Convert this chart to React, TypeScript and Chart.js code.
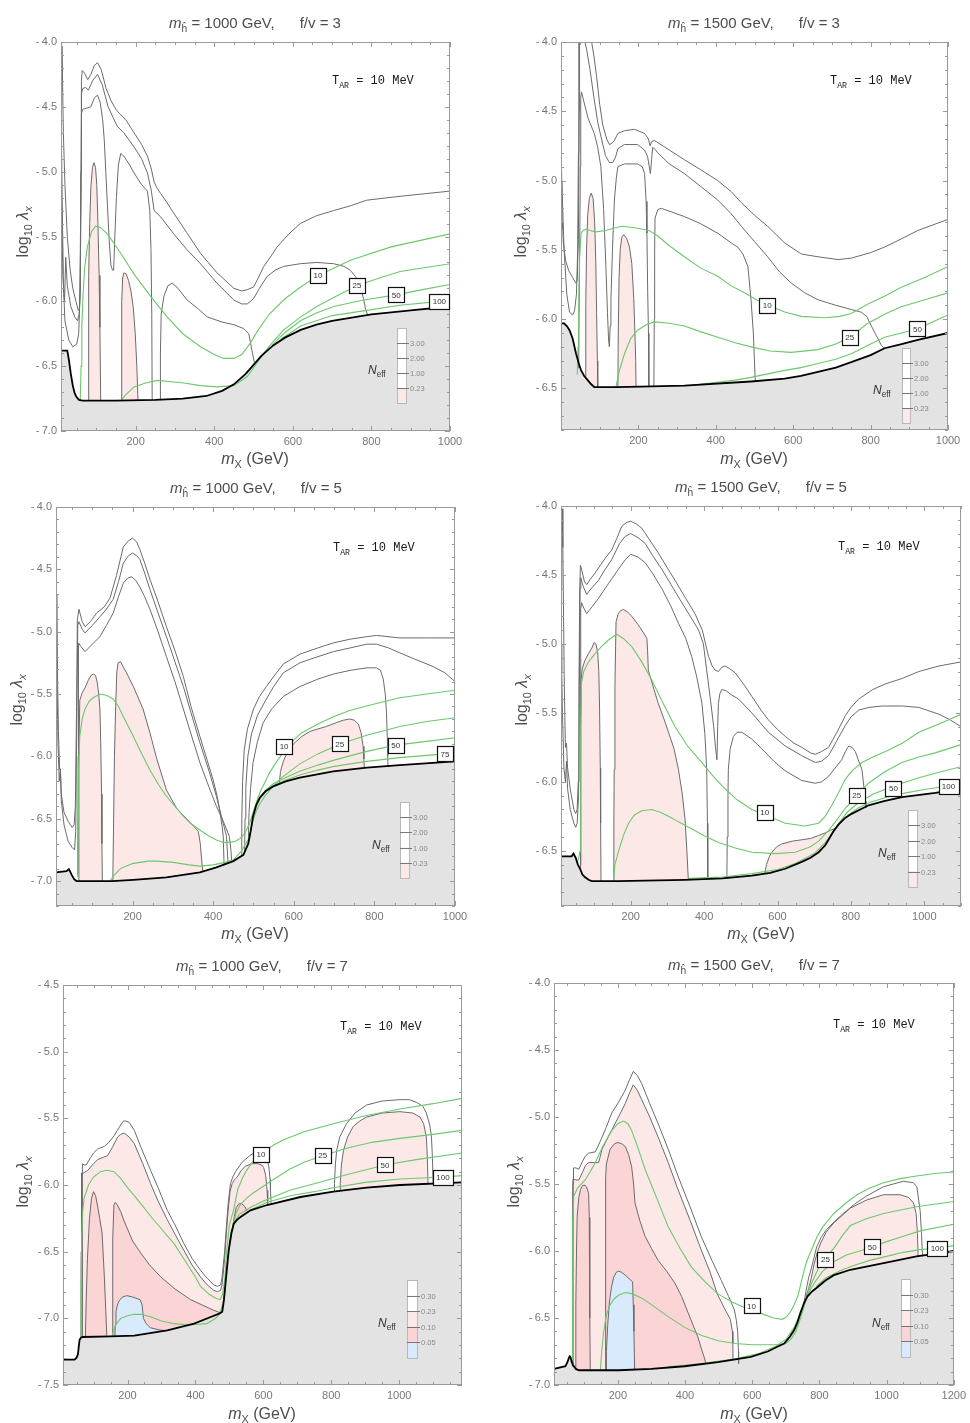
import React, { useEffect, useRef } from "react";
import { Chart, registerables } from "chart.js";
Chart.register(...registerables);

type Pt = [number, number];

// ---------------- shared ticks ----------------
const xTicks1000 = [200, 400, 600, 800, 1000];
const xTicks1200 = [200, 400, 600, 800, 1000, 1200];
const yTicksA = [-7.0, -6.5, -6.0, -5.5, -5.0, -4.5, -4.0];
const yTicksB = [-6.5, -6.0, -5.5, -5.0, -4.5, -4.0];
const yTicksC = [-7.5, -7.0, -6.5, -6.0, -5.5, -5.0, -4.5];
const legendLabelsA = ["3.00", "2.00", "1.00", "0.23"];
const legendLabelsB = ["0.30", "0.23", "0.10", "0.05"];

// ---------------- Panel 1: m=1000, f/v=3 ----------------
const p1Boundary: Pt[] = [[10,-6.38],[26,-6.38],[30,-6.45],[35,-6.56],[40,-6.65],[45,-6.71],[50,-6.74],[56,-6.76],[65,-6.765],[150,-6.765],[250,-6.76],[320,-6.75],[380,-6.73],[420,-6.69],[450,-6.64],[480,-6.56],[500,-6.49],[520,-6.42],[550,-6.34],[580,-6.28],[620,-6.22],[660,-6.18],[700,-6.15],[800,-6.1],[900,-6.07],[1000,-6.04]];
const p1C3: Pt[] = [[11,-4.3],[12.5,-4.03],[14,-4.3],[16,-4.7],[20,-5.1],[26,-5.5],[33,-5.75],[40,-5.9],[48,-6.0],[54,-6.07],[57,-6.06],[59,-5.9],[61,-5.0],[62,-4.3],[64,-4.22],[70,-4.24],[78,-4.29],[86,-4.25],[95,-4.18],[103,-4.16],[112,-4.21],[125,-4.36],[137,-4.45],[150,-4.52],[158,-4.55],[175,-4.6],[196,-4.7],[215,-4.79],[230,-4.88],[240,-4.98],[247,-5.08],[255,-5.13],[264,-5.17],[280,-5.24],[297,-5.32],[330,-5.47],[365,-5.63],[407,-5.78],[450,-5.9],[470,-5.92],[484,-5.91],[500,-5.89],[512,-5.82],[526,-5.73],[545,-5.65],[560,-5.58],[590,-5.48],[619,-5.4],[660,-5.34],[704,-5.3],[750,-5.26],[788,-5.22],[873,-5.19],[1000,-5.15]];
const p1C2: Pt[] = [[11,-4.75],[13,-5.2],[16,-5.85],[19,-6.0],[22,-5.66],[26,-5.88],[35,-6.04],[45,-6.12],[52,-6.15],[56,-6.1],[59,-5.9],[61,-5.0],[62,-4.4],[65,-4.36],[72,-4.35],[80,-4.37],[90,-4.3],[103,-4.25],[115,-4.33],[130,-4.5],[153,-4.65],[170,-4.7],[196,-4.81],[215,-4.9],[230,-5.01],[240,-5.15],[247,-5.3],[264,-5.35],[297,-5.48],[330,-5.6],[365,-5.71],[407,-5.86],[450,-5.99],[470,-6.02],[484,-6.02],[500,-5.98],[515,-5.9],[534,-5.81],[555,-5.76],[577,-5.73],[619,-5.71],[661,-5.7],[704,-5.71],[730,-5.73],[746,-5.76],[760,-5.81],[772,-5.89],[780,-5.98],[785,-6.06],[790,-6.1]];
const p1C1: Pt[] = [[11,-5.2],[15,-5.8],[20,-6.15],[30,-6.3],[40,-6.35],[50,-6.33],[55,-6.25],[58,-6.0],[60,-5.3],[62,-4.55],[65,-4.52],[75,-4.51],[86,-4.5],[95,-4.43],[103,-4.41],[110,-4.47],[116,-4.6],[120,-4.75],[124,-5.0],[128,-5.25],[133,-5.55],[137,-5.72],[141,-5.76],[144,-5.76],[147,-5.5],[151,-5.2],[156,-4.95],[162,-4.86],[170,-4.88],[185,-4.95],[196,-5.01],[215,-5.1],[230,-5.15],[236,-5.3],[239,-5.6],[241,-6.1],[242,-6.76]];
const p1C1b: Pt[] = [[262,-6.76],[263,-6.4],[265,-6.1],[272,-5.96],[282,-5.88],[293,-5.86],[305,-5.89],[331,-5.99],[360,-6.06],[382,-6.12],[420,-6.16],[450,-6.18],[475,-6.21],[488,-6.25],[496,-6.38],[502,-6.47]];
const p1Pink1: Pt[] = [[79,-6.765],[80,-6.3],[81,-5.8],[83,-5.4],[86,-5.12],[90,-4.97],[94,-4.93],[98,-4.97],[101,-5.1],[104,-5.4],[107,-5.8],[109,-6.2],[111,-6.765]];
const p1Pink2: Pt[] = [[163,-6.765],[164,-6.3],[165,-6.0],[167,-5.82],[170,-5.78],[176,-5.79],[182,-5.84],[188,-5.92],[194,-6.05],[199,-6.25],[203,-6.5],[206,-6.765]];
const p1G10: Pt[] = [[59,-6.76],[61,-6.5],[63,-6.2],[66,-5.95],[70,-5.75],[77,-5.58],[88,-5.46],[98,-5.42],[110,-5.43],[128,-5.48],[160,-5.62],[196,-5.79],[240,-5.97],[280,-6.12],[320,-6.25],[365,-6.35],[400,-6.41],[424,-6.44],[450,-6.44],[470,-6.41],[490,-6.33],[510,-6.23],[540,-6.1],[580,-5.98],[620,-5.89],[664,-5.8],[750,-5.68],[850,-5.58],[1000,-5.48]];
const p1G25: Pt[] = [[163,-6.765],[175,-6.72],[196,-6.66],[225,-6.63],[255,-6.61],[290,-6.62],[323,-6.63],[365,-6.65],[407,-6.66],[450,-6.65],[484,-6.58],[510,-6.47],[526,-6.4],[550,-6.31],[577,-6.22],[620,-6.12],[661,-6.04],[710,-5.96],[763,-5.88],[820,-5.82],[873,-5.77],[1000,-5.71]];
const p1G50: Pt[] = [[548,-6.34],[560,-6.3],[580,-6.24],[619,-6.15],[660,-6.09],[704,-6.04],[780,-5.99],[863,-5.95],[930,-5.91],[1000,-5.87]];
const p1G100: Pt[] = [[570,-6.29],[620,-6.19],[700,-6.11],[788,-6.07],[873,-6.03],[973,-6.0],[1000,-5.99]];
const p1Tags: [string, number, number][] = [["10",664,-5.8],["25",763,-5.88],["50",863,-5.95],["100",973,-6.0]];

// ---------------- Panel 2: m=1500, f/v=3 ----------------
const p2Boundary: Pt[] = [[-5,-6.03],[8,-6.03],[15,-6.05],[22,-6.08],[30,-6.14],[39,-6.25],[46,-6.32],[52,-6.37],[60,-6.41],[69,-6.44],[78,-6.47],[86,-6.49],[100,-6.49],[147,-6.49],[319,-6.48],[491,-6.45],[578,-6.43],[620,-6.41],[664,-6.38],[710,-6.35],[750,-6.31],[800,-6.26],[836,-6.21],[880,-6.18],[922,-6.15],[1000,-6.1]];
const p2C3L: Pt[] = [[-4,-3.98],[-2,-4.4],[2,-5.0],[8,-5.5],[15,-5.82],[22,-5.95],[30,-5.97],[35,-5.94],[40,-5.82],[43,-5.5],[45,-4.8],[46,-3.98]];
const p2C2L: Pt[] = [[-4,-4.6],[0,-5.0],[2,-5.35],[4,-5.3],[6,-5.45],[12,-5.58],[20,-5.65],[30,-5.7],[38,-5.74],[42,-5.72],[45,-5.4],[47,-4.5],[48,-3.98]];
const p2C3: Pt[] = [[78,-3.98],[85,-4.1],[92,-4.25],[100,-4.45],[108,-4.6],[118,-4.7],[125,-4.74],[132,-4.73],[138,-4.71],[147,-4.66],[164,-4.64],[190,-4.63],[216,-4.66],[226,-4.7],[230,-4.75],[234,-4.72],[241,-4.71],[280,-4.78],[319,-4.85],[360,-4.92],[405,-5.0],[440,-5.08],[466,-5.16],[500,-5.25],[534,-5.33],[578,-5.45],[621,-5.53],[664,-5.55],[716,-5.57],[750,-5.56],[800,-5.52],[836,-5.48],[880,-5.42],[922,-5.36],[1000,-5.28]];
const p2C2: Pt[] = [[60,-3.98],[66,-4.05],[75,-4.2],[85,-4.4],[95,-4.58],[103,-4.68],[115,-4.82],[125,-4.87],[134,-4.87],[141,-4.83],[147,-4.77],[164,-4.74],[198,-4.74],[216,-4.78],[224,-4.83],[228,-4.9],[231,-4.95],[234,-4.85],[237,-4.76],[245,-4.78],[250,-4.8],[280,-4.88],[319,-4.95],[360,-5.04],[405,-5.14],[440,-5.24],[466,-5.33],[500,-5.44],[534,-5.55],[565,-5.66],[595,-5.74],[630,-5.81],[664,-5.86],[710,-5.9],[750,-5.93],[776,-5.95],[790,-5.98],[802,-6.05],[815,-6.12],[828,-6.19],[836,-6.21]];
const p2C1: Pt[] = [[44,-6.35],[46,-6.1],[48,-5.6],[50,-4.9],[51,-4.4],[53,-4.36],[60,-4.44],[70,-4.55],[86,-4.66],[95,-4.76],[103,-4.9],[110,-5.2],[116,-5.62],[120,-5.95],[123,-6.15],[125,-6.2],[127,-6.05],[129,-5.86],[133,-5.5],[138,-5.14],[143,-4.98],[147,-4.9],[164,-4.88],[198,-4.88],[210,-4.9],[216,-4.95],[220,-5.15],[222,-5.38],[224,-5.8],[226,-6.1],[227,-6.49]];
const p2C1b: Pt[] = [[240,-6.49],[241,-6.0],[242,-5.5],[243,-5.27],[250,-5.21],[259,-5.2],[319,-5.26],[360,-5.31],[405,-5.38],[440,-5.45],[457,-5.48],[470,-5.53],[483,-5.62],[491,-5.86],[497,-6.1],[502,-6.45]];
const p2Pink1: Pt[] = [[63,-6.42],[64,-5.9],[66,-5.5],[69,-5.25],[73,-5.13],[78,-5.09],[83,-5.13],[87,-5.3],[90,-5.6],[92,-5.95],[94,-6.3],[95,-6.49]];
const p2Pink2: Pt[] = [[147,-6.49],[148,-6.1],[150,-5.7],[153,-5.5],[157,-5.41],[162,-5.39],[170,-5.42],[177,-5.48],[183,-5.6],[188,-5.85],[191,-6.1],[193,-6.3],[194,-6.49]];
const p2G10: Pt[] = [[42,-6.4],[44,-6.2],[46,-5.85],[48,-5.55],[52,-5.38],[58,-5.36],[65,-5.35],[75,-5.36],[90,-5.37],[116,-5.36],[140,-5.34],[159,-5.33],[190,-5.34],[228,-5.36],[250,-5.4],[280,-5.47],[319,-5.55],[360,-5.63],[405,-5.69],[440,-5.76],[474,-5.81],[505,-5.86],[534,-5.9],[580,-5.95],[621,-5.98],[681,-5.99],[720,-5.98],[750,-5.96],[793,-5.89],[840,-5.83],[879,-5.77],[940,-5.7],[1000,-5.62]];
const p2G25: Pt[] = [[142,-6.49],[150,-6.38],[164,-6.25],[180,-6.14],[198,-6.08],[220,-6.04],[241,-6.02],[280,-6.03],[319,-6.05],[360,-6.09],[405,-6.13],[450,-6.17],[491,-6.2],[540,-6.23],[595,-6.24],[664,-6.22],[710,-6.18],[746,-6.13],[793,-6.03],[840,-5.96],[879,-5.91],[940,-5.86],[1000,-5.81]];
const p2G50: Pt[] = [[360,-6.47],[450,-6.44],[491,-6.42],[578,-6.37],[620,-6.35],[664,-6.32],[710,-6.29],[750,-6.25],[800,-6.18],[836,-6.13],[880,-6.1],[922,-6.07],[960,-6.02],[1000,-5.97]];
const p2Tags: [string, number, number][] = [["10",533,-5.9],["25",746,-6.13],["50",921,-6.07]];

// ---------------- Panel 3: m=1000, f/v=5 ----------------
const p3Boundary: Pt[] = [[10,-6.93],[36,-6.92],[42,-6.905],[49,-6.95],[55,-6.985],[61,-7.0],[150,-7.0],[202,-6.99],[284,-6.97],[367,-6.93],[408,-6.89],[450,-6.84],[475,-6.79],[487,-6.7],[493,-6.6],[499,-6.48],[507,-6.39],[516,-6.33],[530,-6.28],[549,-6.24],[580,-6.2],[615,-6.17],[698,-6.12],[781,-6.09],[863,-6.07],[1000,-6.04]];
const p3C3: Pt[] = [[10,-4.2],[11,-4.6],[13,-5.2],[16,-5.8],[19,-6.1],[21,-6.1],[23,-6.3],[30,-6.45],[40,-6.52],[50,-6.57],[55,-6.55],[58,-6.4],[61,-5.6],[63,-4.9],[67,-4.82],[75,-4.92],[82,-4.96],[95,-4.92],[111,-4.85],[130,-4.8],[144,-4.73],[160,-4.55],[177,-4.32],[190,-4.27],[200,-4.25],[210,-4.28],[218,-4.34],[230,-4.45],[243,-4.58],[260,-4.73],[284,-4.96],[305,-5.15],[326,-5.36],[345,-5.6],[367,-5.84],[385,-6.03],[400,-6.19],[410,-6.32],[417,-6.45],[422,-6.56],[425,-6.64],[427,-6.87]];
const p3C2: Pt[] = [[10,-4.7],[12,-5.3],[15,-5.9],[18,-6.2],[21,-6.1],[23,-6.35],[30,-6.55],[40,-6.68],[50,-6.73],[56,-6.75],[59,-6.6],[62,-5.6],[64,-4.95],[67,-4.92],[75,-4.98],[82,-5.01],[100,-4.95],[119,-4.88],[135,-4.82],[152,-4.74],[165,-4.6],[177,-4.45],[190,-4.39],[200,-4.37],[210,-4.39],[218,-4.42],[230,-4.53],[243,-4.66],[260,-4.82],[284,-5.04],[305,-5.24],[326,-5.44],[345,-5.65],[367,-5.89],[390,-6.12],[408,-6.32],[422,-6.5],[433,-6.64],[437,-6.86]];
const p3C1: Pt[] = [[64,-6.95],[65,-6.0],[65.5,-5.3],[66,-5.09],[72,-5.12],[82,-5.16],[100,-5.1],[119,-5.04],[135,-4.95],[152,-4.85],[165,-4.72],[177,-4.61],[188,-4.57],[198,-4.56],[208,-4.59],[218,-4.64],[230,-4.72],[243,-4.82],[260,-4.97],[284,-5.2],[305,-5.4],[326,-5.62],[345,-5.82],[367,-6.05],[390,-6.25],[408,-6.4],[425,-6.52],[440,-6.64],[444,-6.75],[446,-6.85]];
const p3R3: Pt[] = [[470,-6.79],[471,-6.5],[473,-6.2],[477,-5.95],[485,-5.78],[500,-5.62],[515,-5.52],[532,-5.44],[550,-5.36],[574,-5.26],[615,-5.18],[660,-5.13],[698,-5.09],[740,-5.06],[781,-5.04],[805,-5.03],[863,-5.05],[930,-5.05],[1000,-5.05]];
const p3R2: Pt[] = [[478,-6.77],[479,-6.5],[481,-6.25],[486,-6.0],[495,-5.82],[510,-5.67],[532,-5.54],[550,-5.44],[574,-5.33],[615,-5.25],[660,-5.2],[698,-5.16],[740,-5.13],[781,-5.1],[805,-5.1],[835,-5.13],[863,-5.17],[900,-5.22],[946,-5.28],[975,-5.33],[1000,-5.4]];
const p3R1: Pt[] = [[487,-6.7],[489,-6.45],[493,-6.25],[499,-6.05],[510,-5.88],[524,-5.73],[545,-5.62],[574,-5.52],[615,-5.44],[660,-5.38],[698,-5.34],[740,-5.31],[781,-5.29],[805,-5.29],[815,-5.31],[822,-5.38],[827,-5.5],[830,-5.65],[832,-5.85],[833,-6.0],[834,-6.08]];
const p3Pink1: Pt[] = [[66,-7.0],[66.5,-6.5],[67,-6.0],[69,-5.55],[75,-5.49],[82,-5.45],[90,-5.39],[97,-5.35],[103,-5.34],[108,-5.35],[112,-5.4],[116,-5.5],[119,-5.62],[121,-5.9],[123,-6.3],[124,-6.7],[125,-7.0]];
const p3Pink2: Pt[] = [[151,-7.0],[153,-6.5],[155,-6.0],[158,-5.6],[161,-5.32],[164,-5.25],[170,-5.24],[185,-5.33],[202,-5.44],[226,-5.62],[243,-5.81],[260,-6.02],[284,-6.27],[310,-6.42],[340,-6.52],[363,-6.6],[368,-6.7],[372,-6.85],[376,-6.97]];
const p3Pink3: Pt[] = [[564,-6.22],[567,-6.12],[574,-6.04],[585,-5.96],[599,-5.9],[620,-5.84],[640,-5.8],[660,-5.78],[681,-5.76],[705,-5.73],[723,-5.71],[739,-5.7],[750,-5.71],[760,-5.74],[767,-5.81],[772,-5.92],[774,-6.02],[775,-6.1]];
const p3G10: Pt[] = [[64,-6.97],[65,-6.5],[66,-6.1],[69,-5.84],[75,-5.7],[82,-5.62],[92,-5.56],[102,-5.53],[119,-5.5],[135,-5.51],[152,-5.54],[165,-5.6],[177,-5.68],[202,-5.84],[220,-5.96],[243,-6.11],[265,-6.23],[284,-6.32],[305,-6.4],[326,-6.48],[345,-6.54],[367,-6.59],[390,-6.64],[408,-6.67],[425,-6.69],[441,-6.69],[455,-6.68],[466,-6.66],[478,-6.62],[490,-6.54],[499,-6.45],[508,-6.36],[516,-6.29],[540,-6.13],[560,-6.03],[576,-5.96],[600,-5.87],[620,-5.81],[660,-5.74],[700,-5.68],[740,-5.63],[800,-5.58],[863,-5.53],[930,-5.5],[1000,-5.47]];
const p3G25: Pt[] = [[144,-7.0],[155,-6.95],[170,-6.9],[185,-6.88],[200,-6.86],[218,-6.85],[240,-6.84],[260,-6.84],[301,-6.85],[340,-6.87],[367,-6.88],[400,-6.87],[430,-6.85],[450,-6.83],[470,-6.76],[488,-6.66],[500,-6.5],[508,-6.43],[516,-6.38],[530,-6.31],[549,-6.24],[570,-6.17],[615,-6.06],[660,-5.98],[714,-5.9],[781,-5.83],[863,-5.76],[930,-5.72],[1000,-5.69]];
const p3G50: Pt[] = [[507,-6.39],[516,-6.33],[530,-6.27],[549,-6.22],[580,-6.17],[615,-6.12],[660,-6.07],[700,-6.03],[781,-5.96],[853,-5.91],[930,-5.88],[1000,-5.85]];
const p3G75: Pt[] = [[530,-6.275],[549,-6.235],[580,-6.19],[615,-6.15],[660,-6.11],[700,-6.08],[781,-6.04],[863,-6.01],[975,-5.98],[1000,-5.97]];
const p3Tags: [string, number, number][] = [["10",576,-5.92],["25",714,-5.9],["50",853,-5.91],["75",975,-5.98]];

// ---------------- Panel 4: m=1500, f/v=5 ----------------
const p4Boundary: Pt[] = [[10,-6.54],[39,-6.54],[44,-6.52],[50,-6.55],[56,-6.6],[62,-6.63],[68,-6.67],[75,-6.69],[85,-6.71],[94,-6.72],[166,-6.72],[348,-6.71],[450,-6.7],[530,-6.68],[580,-6.66],[621,-6.63],[666,-6.58],[690,-6.55],[712,-6.51],[730,-6.46],[739,-6.42],[752,-6.36],[766,-6.31],[785,-6.26],[803,-6.23],[848,-6.17],[890,-6.14],[939,-6.11],[1030,-6.08],[1100,-6.05]];
const p4C3: Pt[] = [[10,-4.6],[12,-4.2],[13,-4.02],[15,-4.3],[17,-4.8],[19,-5.3],[22,-5.75],[25,-5.72],[28,-5.9],[35,-6.05],[45,-6.2],[50,-6.23],[54,-6.2],[57,-6.0],[59,-5.3],[61,-4.6],[63,-4.43],[67,-4.47],[74,-4.55],[80,-4.57],[90,-4.53],[102,-4.49],[112,-4.45],[130,-4.38],[148,-4.32],[163,-4.23],[175,-4.15],[188,-4.12],[200,-4.11],[215,-4.13],[230,-4.16],[250,-4.24],[275,-4.34],[300,-4.45],[321,-4.54],[350,-4.67],[375,-4.78],[395,-4.9],[412,-5.09],[422,-5.16],[430,-5.19],[439,-5.2],[448,-5.17],[457,-5.16],[470,-5.18],[485,-5.21],[510,-5.3],[530,-5.38],[555,-5.48],[575,-5.55],[600,-5.62],[621,-5.67],[645,-5.72],[666,-5.75],[690,-5.79],[703,-5.8],[720,-5.78],[739,-5.75],[760,-5.65],[785,-5.52],[800,-5.46],[821,-5.4],[860,-5.33],[894,-5.29],[940,-5.25],[985,-5.2],[1040,-5.16],[1100,-5.13]];
const p4C2: Pt[] = [[10,-5.0],[12,-5.2],[14,-5.5],[18,-5.9],[22,-6.0],[25,-5.85],[28,-6.05],[35,-6.2],[45,-6.3],[50,-6.33],[54,-6.3],[58,-6.1],[60,-5.3],[62,-4.6],[64,-4.52],[70,-4.58],[80,-4.64],[95,-4.59],[112,-4.54],[130,-4.46],[148,-4.39],[170,-4.27],[185,-4.22],[200,-4.2],[220,-4.23],[239,-4.27],[260,-4.36],[285,-4.46],[310,-4.57],[330,-4.66],[360,-4.79],[385,-4.9],[398,-5.0],[407,-5.19],[418,-5.42],[426,-5.6],[431,-5.75],[435,-5.84],[437,-5.6],[439,-5.43],[443,-5.36],[448,-5.33],[460,-5.34],[475,-5.37],[494,-5.4],[530,-5.5],[575,-5.64],[621,-5.74],[666,-5.81],[703,-5.86],[720,-5.85],[739,-5.81],[760,-5.71],[785,-5.59],[800,-5.53],[821,-5.48],[850,-5.46],[885,-5.45],[940,-5.45],[985,-5.46],[1040,-5.51],[1070,-5.55],[1100,-5.6]];
const p4C1: Pt[] = [[63,-6.6],[63.5,-5.5],[64,-4.75],[66,-4.7],[72,-4.74],[80,-4.78],[95,-4.73],[112,-4.67],[140,-4.56],[166,-4.46],[185,-4.39],[200,-4.35],[220,-4.37],[239,-4.41],[260,-4.49],[285,-4.6],[310,-4.73],[330,-4.85],[350,-4.96],[366,-5.09],[380,-5.24],[394,-5.43],[402,-5.65],[407,-5.91],[409,-6.3],[410,-6.7]];
const p4C1b: Pt[] = [[462,-6.7],[463,-6.4],[465,-6.1],[466,-5.91],[471,-5.76],[480,-5.67],[490,-5.64],[503,-5.64],[530,-5.69],[557,-5.76],[590,-5.85],[621,-5.92],[666,-5.99],[703,-6.01],[720,-6.0],[739,-5.96],[760,-5.89],[775,-5.84],[785,-5.78],[794,-5.74],[803,-5.75],[812,-5.78],[820,-5.84],[830,-5.91],[836,-6.05],[839,-6.14],[841,-6.19]];
const p4Pink1: Pt[] = [[62,-6.63],[63,-6.2],[64,-5.6],[65,-5.25],[68,-5.18],[75,-5.12],[85,-5.07],[94,-5.03],[100,-4.99],[105,-5.0],[110,-5.06],[113,-5.2],[115,-5.45],[117,-5.9],[118,-6.3],[119,-6.72]];
const p4Pink2: Pt[] = [[153,-6.72],[154,-6.3],[155,-5.91],[157,-5.3],[160,-4.84],[166,-4.78],[172,-4.76],[180,-4.75],[192,-4.77],[203,-4.8],[220,-4.86],[235,-4.92],[244,-4.96],[246,-5.05],[248,-5.19],[260,-5.3],[275,-5.43],[290,-5.54],[303,-5.64],[318,-5.76],[330,-5.91],[340,-6.08],[348,-6.27],[353,-6.5],[357,-6.71]];
const p4Pink3: Pt[] = [[565,-6.665],[570,-6.6],[578,-6.54],[585,-6.51],[598,-6.47],[612,-6.45],[640,-6.43],[666,-6.42],[690,-6.41],[711,-6.39],[730,-6.37],[745,-6.35],[755,-6.34],[762,-6.33],[766,-6.31]];
const p4G10: Pt[] = [[57,-6.57],[62,-6.5],[63,-6.2],[64,-5.6],[66,-5.28],[72,-5.2],[85,-5.13],[103,-5.07],[120,-5.02],[140,-4.97],[162,-4.93],[180,-4.96],[203,-5.02],[230,-5.13],[257,-5.26],[290,-5.44],[321,-5.6],[355,-5.74],[394,-5.86],[425,-5.96],[457,-6.05],[490,-6.13],[530,-6.2],[585,-6.26],[621,-6.3],[675,-6.32],[712,-6.3],[730,-6.25],[748,-6.17],[766,-6.08],[785,-5.98],[803,-5.92],[830,-5.86],[860,-5.82],[894,-5.78],[940,-5.72],[985,-5.64],[1040,-5.58],[1100,-5.51]];
const p4G25: Pt[] = [[153,-6.72],[157,-6.6],[166,-6.51],[180,-6.39],[194,-6.3],[210,-6.24],[230,-6.21],[257,-6.2],[280,-6.22],[303,-6.25],[330,-6.29],[366,-6.34],[400,-6.39],[439,-6.44],[485,-6.48],[530,-6.51],[594,-6.52],[648,-6.51],[690,-6.47],[712,-6.43],[740,-6.35],[766,-6.26],[785,-6.19],[803,-6.14],[830,-6.06],[848,-6.01],[890,-5.93],[939,-5.86],[985,-5.82],[1030,-5.79],[1100,-5.73]];
const p4G50: Pt[] = [[357,-6.7],[450,-6.69],[530,-6.665],[600,-6.635],[650,-6.59],[700,-6.52],[730,-6.44],[750,-6.37],[770,-6.29],[790,-6.22],[821,-6.15],[860,-6.09],[916,-6.03],[985,-5.97],[1040,-5.93],[1100,-5.89]];
const p4G100: Pt[] = [[790,-6.245],[820,-6.19],[850,-6.15],[900,-6.11],[950,-6.08],[1000,-6.055],[1066,-6.03],[1100,-6.02]];
const p4Tags: [string, number, number][] = [["10",565,-6.22],["25",816,-6.1],["50",916,-6.05],["100",1066,-6.03]];

// ---------------- Panel 5: m=1000, f/v=7 ----------------
const p5Boundary: Pt[] = [[10,-7.31],[44,-7.31],[50,-7.295],[54,-7.27],[57,-7.2],[59,-7.16],[63,-7.145],[68,-7.14],[150,-7.135],[220,-7.13],[317,-7.09],[396,-7.04],[445,-6.99],[470,-6.965],[479,-6.95],[484,-6.86],[490,-6.7],[498,-6.49],[506,-6.36],[513,-6.29],[523,-6.26],[533,-6.24],[562,-6.19],[611,-6.15],[709,-6.09],[806,-6.05],[904,-6.02],[1002,-6.0],[1185,-5.98]];
const p5Outer: Pt[] = [[66,-7.14],[66.5,-6.5],[67,-6.0],[68,-5.84],[72,-5.85],[78,-5.85],[90,-5.8],[100,-5.76],[112,-5.73],[132,-5.71],[145,-5.68],[161,-5.63],[170,-5.59],[180,-5.55],[188,-5.52],[195,-5.52],[205,-5.53],[220,-5.59],[240,-5.72],[268,-5.89],[290,-6.02],[317,-6.19],[340,-6.3],[366,-6.44],[390,-6.55],[415,-6.64],[435,-6.7],[454,-6.75],[465,-6.76],[474,-6.75],[478,-6.7],[482,-6.6],[486,-6.5],[490,-6.35],[496,-6.15],[503,-5.99],[510,-5.94],[518,-5.9],[537,-5.83],[560,-5.78],[572,-5.76],[590,-5.75],[601,-5.76],[610,-5.8],[616,-5.86],[620,-5.96],[621,-6.04],[623,-6.15]];
const p5Outer2: Pt[] = [[809,-6.05],[809.5,-5.99],[812,-5.85],[816,-5.74],[825,-5.64],[845,-5.54],[870,-5.46],[904,-5.4],[950,-5.37],[1002,-5.36],[1030,-5.36],[1051,-5.38],[1070,-5.41],[1080,-5.46],[1090,-5.55],[1095,-5.64],[1098,-5.8],[1100,-6.0]];
const p5Inner: Pt[] = [[63,-7.145],[63.5,-6.5],[64,-6.0],[65,-5.91],[70,-5.91],[83,-5.89],[100,-5.84],[112,-5.81],[130,-5.79],[141,-5.78],[155,-5.72],[171,-5.64],[180,-5.62],[190,-5.61],[205,-5.64],[220,-5.69],[245,-5.84],[268,-5.99],[290,-6.12],[317,-6.26],[340,-6.37],[366,-6.49],[390,-6.6],[415,-6.69],[435,-6.75],[454,-6.79],[465,-6.8],[474,-6.79],[478,-6.75],[482,-6.66],[486,-6.55],[490,-6.4],[496,-6.2],[502,-6.05],[508,-5.99],[515,-5.96],[523,-5.94],[535,-5.89],[547,-5.86],[565,-5.84],[582,-5.84],[595,-5.85],[601,-5.87],[607,-5.93],[611,-6.04],[613,-6.15]];
const p5Inner2: Pt[] = [[826,-6.045],[826.5,-5.99],[830,-5.85],[836,-5.74],[848,-5.64],[865,-5.56],[884,-5.52],[904,-5.49],[950,-5.46],[1002,-5.45],[1040,-5.46],[1061,-5.49],[1072,-5.54],[1080,-5.64],[1083,-5.8],[1085,-5.99]];
const p5Dark1: Pt[] = [[76,-7.14],[78,-6.9],[82,-6.55],[88,-6.25],[94,-6.1],[100,-6.05],[106,-6.08],[112,-6.16],[118,-6.25],[125,-6.36],[132,-6.7],[139,-7.13]];
const p5Dark2: Pt[] = [[155,-7.135],[156,-6.8],[157,-6.4],[160,-6.15],[164,-6.13],[170,-6.15],[180,-6.2],[190,-6.27],[200,-6.33],[215,-6.42],[239,-6.51],[265,-6.6],[298,-6.69],[340,-6.78],[386,-6.86],[420,-6.9],[454,-6.94],[470,-6.955],[479,-6.96]];
const p5Dark3: Pt[] = [[510,-6.32],[514,-6.24],[520,-6.17],[528,-6.14],[536,-6.14],[545,-6.16],[553,-6.2]];
const p5Blue: Pt[] = [[163,-7.135],[164,-7.05],[166,-6.95],[170,-6.9],[175,-6.87],[185,-6.84],[198,-6.83],[215,-6.84],[237,-6.86],[243,-6.9],[247,-7.0],[255,-7.04],[267,-7.07],[290,-7.085],[316,-7.095]];
const p5G10: Pt[] = [[62,-7.14],[63,-6.8],[65,-6.4],[68,-6.2],[72,-6.1],[85,-6.0],[100,-5.94],[120,-5.9],[139,-5.89],[160,-5.9],[180,-5.95],[200,-6.02],[220,-6.08],[239,-6.14],[270,-6.24],[300,-6.33],[337,-6.44],[370,-6.57],[400,-6.69],[415,-6.76],[440,-6.82],[460,-6.85],[473,-6.86],[480,-6.82],[487,-6.69],[492,-6.5],[500,-6.3],[512,-6.19],[525,-6.03],[540,-5.94],[551,-5.89],[570,-5.82],[593,-5.77],[630,-5.7],[660,-5.66],[720,-5.6],[806,-5.54],[900,-5.48],[1002,-5.43],[1100,-5.39],[1185,-5.35]];
const p5G25: Pt[] = [[154,-7.14],[158,-7.1],[165,-7.05],[180,-7.0],[200,-6.98],[220,-6.97],[239,-6.97],[270,-6.99],[300,-7.02],[337,-7.04],[380,-7.05],[433,-7.04],[460,-7.0],[472,-6.96],[482,-6.88],[488,-6.75],[494,-6.57],[502,-6.44],[510,-6.3],[520,-6.21],[531,-6.15],[550,-6.1],[570,-6.06],[600,-6.01],[629,-5.96],[678,-5.88],[720,-5.83],[775,-5.78],[850,-5.72],[920,-5.68],[1002,-5.65],[1100,-5.62],[1185,-5.59]];
const p5G50: Pt[] = [[500,-6.44],[506,-6.35],[515,-6.27],[530,-6.22],[560,-6.17],[600,-6.12],[678,-6.04],[750,-5.99],[850,-5.92],[958,-5.85],[1050,-5.81],[1185,-5.76]];
const p5G100: Pt[] = [[560,-6.19],[611,-6.13],[680,-6.08],[750,-6.05],[806,-6.02],[900,-5.98],[1002,-5.955],[1129,-5.94],[1185,-5.93]];
const p5Tags: [string, number, number][] = [["10",593,-5.77],["25",775,-5.78],["50",958,-5.85],["100",1129,-5.94]];

// ---------------- Panel 6: m=1500, f/v=7 ----------------
const p6Boundary: Pt[] = [[10,-6.88],[44,-6.86],[50,-6.83],[54,-6.8],[57,-6.785],[59,-6.79],[62,-6.82],[66,-6.85],[75,-6.88],[84,-6.89],[202,-6.89],[300,-6.88],[399,-6.86],[498,-6.83],[596,-6.79],[646,-6.75],[670,-6.72],[695,-6.69],[712,-6.64],[725,-6.59],[735,-6.53],[744,-6.46],[754,-6.39],[764,-6.34],[779,-6.3],[794,-6.27],[818,-6.22],[843,-6.18],[892,-6.14],[991,-6.09],[1089,-6.04],[1200,-6.0]];
const p6Outer: Pt[] = [[66,-6.85],[66.5,-6.0],[67,-5.5],[68,-5.38],[75,-5.38],[84,-5.39],[95,-5.33],[104,-5.29],[113,-5.27],[133,-5.26],[148,-5.18],[165,-5.08],[182,-4.97],[202,-4.89],[222,-4.8],[235,-4.72],[246,-4.66],[258,-4.69],[271,-4.75],[295,-4.9],[320,-5.05],[350,-5.24],[379,-5.44],[415,-5.67],[448,-5.89],[480,-6.07],[508,-6.22],[530,-6.34],[547,-6.44],[553,-6.52],[557,-6.61],[559,-6.75],[559.5,-6.84]];
const p6Inner: Pt[] = [[65,-6.85],[65.5,-6.0],[66,-5.5],[67,-5.46],[75,-5.47],[84,-5.47],[95,-5.41],[104,-5.36],[113,-5.34],[130,-5.34],[143,-5.34],[153,-5.24],[175,-5.13],[202,-5.0],[222,-4.9],[235,-4.82],[246,-4.76],[258,-4.8],[271,-4.87],[295,-5.0],[320,-5.15],[350,-5.34],[379,-5.54],[415,-5.77],[448,-5.99],[475,-6.16],[496,-6.32],[520,-6.44],[535,-6.51],[541,-6.6],[542.5,-6.69],[543,-6.82]];
const p6Outer2: Pt[] = [[753,-6.4],[760,-6.3],[768,-6.2],[777,-6.12],[792,-5.97],[805,-5.9],[821,-5.84],[845,-5.78],[871,-5.72],[905,-5.65],[940,-5.59],[991,-5.52],[1020,-5.5],[1050,-5.48],[1080,-5.49],[1090,-5.52],[1094,-5.59],[1100,-5.7],[1104,-5.87],[1107,-6.04]];
const p6Inner2: Pt[] = [[760,-6.34],[768,-6.28],[776,-6.2],[784,-6.1],[795,-6.0],[804,-5.94],[820,-5.86],[843,-5.79],[870,-5.73],[892,-5.68],[940,-5.62],[991,-5.58],[1040,-5.58],[1065,-5.6],[1080,-5.64],[1088,-5.72],[1092,-5.87],[1094,-6.05]];
const p6Dark1: Pt[] = [[74,-6.88],[75,-6.4],[77,-6.0],[79,-5.74],[84,-5.6],[89,-5.54],[96,-5.51],[103,-5.51],[108,-5.53],[113,-5.57],[115,-5.75],[116,-6.0],[117,-6.5],[118,-6.88]];
const p6Dark2: Pt[] = [[163,-6.89],[163.5,-6.0],[164,-5.45],[166,-5.35],[177,-5.24],[190,-5.2],[200,-5.19],[212,-5.2],[222,-5.22],[232,-5.28],[241,-5.37],[247,-5.5],[251,-5.64],[265,-5.77],[281,-5.89],[300,-5.98],[320,-6.07],[345,-6.15],[370,-6.24],[390,-6.34],[409,-6.46],[425,-6.56],[438,-6.64],[450,-6.74],[458,-6.8],[463,-6.85]];
const p6Blue: Pt[] = [[165,-6.89],[166,-6.75],[170,-6.55],[175,-6.38],[181,-6.27],[187,-6.2],[195,-6.16],[202,-6.15],[212,-6.16],[222,-6.18],[235,-6.21],[244,-6.23],[246,-6.4],[248,-6.6],[250,-6.89]];
const p6G10: Pt[] = [[64,-6.86],[65,-6.3],[66,-5.8],[69,-5.59],[80,-5.53],[103,-5.47],[120,-5.4],[133,-5.34],[155,-5.22],[182,-5.1],[200,-5.05],[217,-5.03],[230,-5.05],[241,-5.1],[260,-5.23],[281,-5.39],[315,-5.6],[350,-5.82],[385,-5.98],[419,-6.12],[460,-6.23],[498,-6.32],[540,-6.38],[575,-6.42],[620,-6.46],[663,-6.5],[690,-6.51],[703,-6.49],[715,-6.45],[723,-6.41],[732,-6.36],[738,-6.32],[745,-6.24],[752,-6.17],[762,-6.08],[775,-6.0],[792,-5.9],[810,-5.82],[843,-5.72],[880,-5.64],[912,-5.58],[950,-5.53],[991,-5.49],[1040,-5.46],[1089,-5.44],[1150,-5.42],[1200,-5.41]];
const p6G25: Pt[] = [[148,-6.89],[152,-6.75],[158,-6.6],[165,-6.49],[175,-6.41],[188,-6.36],[202,-6.33],[222,-6.31],[244,-6.32],[270,-6.35],[300,-6.4],[350,-6.49],[399,-6.57],[450,-6.63],[498,-6.67],[550,-6.69],[600,-6.7],[650,-6.7],[676,-6.7],[700,-6.69],[715,-6.66],[730,-6.6],[744,-6.5],[754,-6.42],[765,-6.32],[775,-6.25],[784,-6.2],[795,-6.14],[804,-6.1],[818,-6.05],[843,-5.98],[870,-5.88],[892,-5.81],[940,-5.76],[991,-5.72],[1089,-5.67],[1200,-5.63]];
const p6G50: Pt[] = [[350,-6.865],[450,-6.84],[550,-6.805],[620,-6.765],[670,-6.71],[700,-6.66],[725,-6.57],[745,-6.45],[760,-6.36],[775,-6.28],[790,-6.22],[810,-6.15],[843,-6.08],[880,-6.03],[920,-6.0],[957,-5.97],[1000,-5.93],[1050,-5.89],[1100,-5.85],[1200,-5.8]];
const p6G100: Pt[] = [[790,-6.265],[820,-6.2],[860,-6.15],[900,-6.11],[950,-6.07],[1000,-6.04],[1050,-6.01],[1100,-5.99],[1151,-5.98],[1200,-5.96]];
const p6Tags: [string, number, number][] = [["10",598,-6.41],["25",818,-6.06],["50",957,-5.97],["100",1151,-5.98]];

// ---------------- styles ----------------
const GRAY = "#e3e3e3";
const CONTOUR = "#6b6b6b";
const GREEN = "#6cc86c";
const PINK1 = "#fde8e8";
const PINK2 = "#fbd4d5";
const BLUE = "#d8eafb";
const FAM = '"Liberation Sans", Arial, sans-serif';
const MONO = '"Liberation Mono", "DejaVu Sans Mono", monospace';

type Fill = { data: Pt[]; color: string; order: number };
type Panel = {
  box: [number, number, number, number];
  area: [number, number, number, number];
  xr: [number, number];
  yr: [number, number];
  xTicks: number[];
  yTicks: number[];
  mh: string;
  fv: string;
  boundary: Pt[];
  fills: Fill[];
  contours: Pt[][];
  greens: Pt[][];
  tags: [string, number, number][];
  legendColors: string[];
  legendLabels: string[];
  legend: [number, number, number, number];
  neff: [number, number];
  tar: [number, number];
  titleC: [number, number];
  xTitleC: [number, number];
  yTitleC: [number, number];
};

const PANELS: Panel[] = [
  {
    box: [0, 0, 485, 470], area: [61, 42, 450, 431], xr: [10, 1000], yr: [-7.0, -4.0],
    xTicks: xTicks1000, yTicks: yTicksA, mh: "1000", fv: "3", boundary: p1Boundary,
    fills: [{ data: p1Pink1, color: PINK1, order: 12 }, { data: p1Pink2, color: PINK1, order: 12 }],
    contours: [p1C3, p1C2, p1C1, p1C1b], greens: [p1G10, p1G25, p1G50, p1G100], tags: p1Tags,
    legendColors: ["#fff", "#fff", "#fff", "#fff", PINK1], legendLabels: legendLabelsA,
    legend: [397, 328, 406, 403], neff: [368, 370], tar: [332, 80],
    titleC: [255, 23], xTitleC: [255, 458], yTitleC: [22, 232],
  },
  {
    box: [485, 0, 485, 470], area: [561, 42, 948, 430], xr: [0, 1000], yr: [-6.8, -4.0],
    xTicks: xTicks1000, yTicks: yTicksB, mh: "1500", fv: "3", boundary: p2Boundary,
    fills: [{ data: p2Pink1, color: PINK1, order: 12 }, { data: p2Pink2, color: PINK1, order: 12 }],
    contours: [p2C3L, p2C2L, p2C3, p2C2, p2C1, p2C1b], greens: [p2G10, p2G25, p2G50], tags: p2Tags,
    legendColors: ["#fff", "#fff", "#fff", "#fff", PINK1], legendLabels: legendLabelsA,
    legend: [902, 348, 910, 423], neff: [873, 390], tar: [830, 80],
    titleC: [754, 23], xTitleC: [754, 458], yTitleC: [520, 232],
  },
  {
    box: [0, 470, 485, 480], area: [56, 507, 455, 906], xr: [10, 1000], yr: [-7.2, -4.0],
    xTicks: xTicks1000, yTicks: yTicksA, mh: "1000", fv: "5", boundary: p3Boundary,
    fills: [{ data: p3Pink1, color: PINK1, order: 12 }, { data: p3Pink2, color: PINK1, order: 12 }, { data: p3Pink3, color: PINK1, order: 12 }],
    contours: [p3C3, p3C2, p3C1, p3R3, p3R2, p3R1], greens: [p3G10, p3G25, p3G50, p3G75], tags: p3Tags,
    legendColors: ["#fff", "#fff", "#fff", "#fff", PINK1], legendLabels: legendLabelsA,
    legend: [400, 802, 409, 878], neff: [372, 845], tar: [333, 547],
    titleC: [256, 488], xTitleC: [255, 933], yTitleC: [16, 700],
  },
  {
    box: [485, 470, 485, 480], area: [561, 506, 961, 906], xr: [10, 1100], yr: [-6.9, -4.0],
    xTicks: xTicks1000, yTicks: yTicksB, mh: "1500", fv: "5", boundary: p4Boundary,
    fills: [{ data: p4Pink1, color: PINK1, order: 12 }, { data: p4Pink2, color: PINK1, order: 12 }, { data: p4Pink3, color: PINK1, order: 12 }],
    contours: [p4C3, p4C2, p4C1, p4C1b], greens: [p4G10, p4G25, p4G50, p4G100], tags: p4Tags,
    legendColors: ["#fff", "#fff", "#fff", "#fff", PINK1], legendLabels: legendLabelsA,
    legend: [908, 810, 917, 887], neff: [878, 853], tar: [838, 546],
    titleC: [761, 487], xTitleC: [761, 933], yTitleC: [521, 700],
  },
  {
    box: [0, 950, 485, 473], area: [63, 985, 462, 1385], xr: [10, 1185], yr: [-7.5, -4.5],
    xTicks: xTicks1000, yTicks: yTicksC, mh: "1000", fv: "7", boundary: p5Boundary,
    fills: [
      { data: p5Inner, color: PINK1, order: 14 }, { data: p5Inner2, color: PINK1, order: 14 },
      { data: p5Dark1, color: PINK2, order: 13 }, { data: p5Dark2, color: PINK2, order: 13 }, { data: p5Dark3, color: PINK2, order: 13 },
      { data: p5Blue, color: BLUE, order: 12 },
    ],
    contours: [p5Outer, p5Outer2], greens: [p5G10, p5G25, p5G50, p5G100], tags: p5Tags,
    legendColors: ["#fff", "#fff", PINK1, PINK2, BLUE], legendLabels: legendLabelsB,
    legend: [407, 1280, 417, 1358], neff: [378, 1323], tar: [340, 1026],
    titleC: [262, 966], xTitleC: [262, 1413], yTitleC: [22, 1182],
  },
  {
    box: [485, 950, 485, 473], area: [554, 983, 956, 1385], xr: [10, 1200], yr: [-7.0, -4.0],
    xTicks: xTicks1200, yTicks: yTicksA, mh: "1500", fv: "7", boundary: p6Boundary,
    fills: [
      { data: p6Inner, color: PINK1, order: 14 }, { data: p6Inner2, color: PINK1, order: 14 },
      { data: p6Dark1, color: PINK2, order: 13 }, { data: p6Dark2, color: PINK2, order: 13 },
      { data: p6Blue, color: BLUE, order: 12 },
    ],
    contours: [p6Outer, p6Outer2], greens: [p6G10, p6G25, p6G50, p6G100], tags: p6Tags,
    legendColors: ["#fff", "#fff", PINK1, PINK2, BLUE], legendLabels: legendLabelsB,
    legend: [901, 1279, 910, 1357], neff: [872, 1323], tar: [833, 1024],
    titleC: [754, 965], xTitleC: [754, 1413], yTitleC: [513, 1182],
  },
];

// ---------------- rich text helpers ----------------
type Seg = { t: string; i?: boolean; s?: boolean };
function segFont(s: Seg, size: number, fam: string) {
  const sz = s.s ? size * 0.68 : size;
  return `${s.i ? "italic " : ""}${sz}px ${fam}`;
}
function richWidth(ctx: CanvasRenderingContext2D, segs: Seg[], size: number, fam: string) {
  let w = 0;
  for (const s of segs) { ctx.font = segFont(s, size, fam); w += ctx.measureText(s.t).width; }
  return w;
}
function drawRich(ctx: CanvasRenderingContext2D, segs: Seg[], x: number, baseY: number, size: number, fam: string, color: string, center: boolean) {
  const w = richWidth(ctx, segs, size, fam);
  let cx = center ? x - w / 2 : x;
  ctx.fillStyle = color;
  ctx.textAlign = "left";
  ctx.textBaseline = "alphabetic";
  for (const s of segs) {
    ctx.font = segFont(s, size, fam);
    ctx.fillText(s.t, cx, baseY + (s.s ? size * 0.27 : 0));
    cx += ctx.measureText(s.t).width;
  }
}

function overlayPlugin(p: Panel) {
  const ox = p.box[0], oy = p.box[1];
  return {
    id: "overlay",
    afterDatasetsDraw(chart: any) {
      const ctx: CanvasRenderingContext2D = chart.ctx;
      const { left, right, top, bottom } = chart.chartArea;
      const xs = chart.scales.x, ys = chart.scales.y;
      ctx.save();
      ctx.strokeStyle = "#9a9a9a";
      ctx.lineWidth = 1;
      ctx.strokeRect(Math.round(left) + 0.5, Math.round(top) + 0.5, Math.round(right - left) - 1, Math.round(bottom - top) - 1);
      ctx.beginPath();
      for (let v = Math.ceil(p.xr[0] / 50) * 50; v <= p.xr[1] + 1e-6; v += 50) {
        const px = Math.round(xs.getPixelForValue(v)) + 0.5;
        const len = v % 200 === 0 ? 5 : 3;
        ctx.moveTo(px, bottom); ctx.lineTo(px, bottom - len);
        ctx.moveTo(px, top); ctx.lineTo(px, top + len);
      }
      const y0 = Math.ceil(p.yr[0] * 10 - 1e-6), y1 = Math.floor(p.yr[1] * 10 + 1e-6);
      for (let k = y0; k <= y1; k++) {
        const v = k / 10;
        const py = Math.round(ys.getPixelForValue(v)) + 0.5;
        const len = k % 5 === 0 ? 5 : 3;
        ctx.moveTo(left, py); ctx.lineTo(left + len, py);
        ctx.moveTo(right, py); ctx.lineTo(right - len, py);
      }
      ctx.stroke();
      for (const [txt, xv, yv] of p.tags) {
        const px = xs.getPixelForValue(xv), py = ys.getPixelForValue(yv);
        ctx.font = `8px ${FAM}`;
        const tw = ctx.measureText(txt).width;
        const w = Math.round(tw + 7), h = 15;
        const bx = Math.round(px - w / 2) + 0.5, by = Math.round(py - h / 2) + 0.5;
        ctx.fillStyle = "#fff";
        ctx.fillRect(bx, by, w, h);
        ctx.strokeStyle = "#111";
        ctx.lineWidth = 1.2;
        ctx.strokeRect(bx, by, w, h);
        ctx.fillStyle = "#333";
        ctx.textAlign = "center";
        ctx.textBaseline = "middle";
        ctx.fillText(txt, px, py + 0.5);
      }
      ctx.restore();
    },
    afterDraw(chart: any) {
      const ctx: CanvasRenderingContext2D = chart.ctx;
      ctx.save();
      drawRich(ctx, [{ t: "m", i: true }, { t: "ĥ", s: true }, { t: ` = ${p.mh} GeV,` }, { t: `      f/v = ${p.fv}` }],
        p.titleC[0] - ox, p.titleC[1] - oy + 5.4, 15, FAM, "#4d4d4d", true);
      drawRich(ctx, [{ t: "m", i: true }, { t: "X", s: true }, { t: " (GeV)" }],
        p.xTitleC[0] - ox, p.xTitleC[1] - oy + 5.8, 16, FAM, "#4d4d4d", true);
      ctx.save();
      ctx.translate(p.yTitleC[0] - ox, p.yTitleC[1] - oy);
      ctx.rotate(-Math.PI / 2);
      drawRich(ctx, [{ t: "log" }, { t: "10", s: true }, { t: " " }, { t: "λ", i: true }, { t: "x", i: true, s: true }],
        0, 5.8, 16, FAM, "#4d4d4d", true);
      ctx.restore();
      drawRich(ctx, [{ t: "T" }, { t: "AR", s: true }, { t: " = 10 MeV" }], p.tar[0] - ox, p.tar[1] - oy + 4.3, 12, MONO, "#1a1a1a", false);
      const [lx0, ly0, lx1, ly1] = [p.legend[0] - ox, p.legend[1] - oy, p.legend[2] - ox, p.legend[3] - oy];
      const n = p.legendColors.length;
      const sh = (ly1 - ly0) / n;
      for (let i = 0; i < n; i++) {
        ctx.fillStyle = p.legendColors[i];
        ctx.fillRect(lx0, ly0 + i * sh, lx1 - lx0, sh);
      }
      ctx.strokeStyle = "#b8b8b8";
      ctx.lineWidth = 1;
      ctx.strokeRect(Math.round(lx0) + 0.5, Math.round(ly0) + 0.5, Math.round(lx1 - lx0), Math.round(ly1 - ly0));
      ctx.strokeStyle = "#777";
      ctx.font = `7.5px ${FAM}`;
      ctx.textAlign = "left";
      ctx.textBaseline = "middle";
      for (let i = 1; i < n; i++) {
        const yy = Math.round(ly0 + i * sh) + 0.5;
        ctx.beginPath();
        ctx.moveTo(lx0, yy); ctx.lineTo(lx1 + 3, yy);
        ctx.stroke();
        ctx.fillStyle = "#8a8a8a";
        ctx.fillText(p.legendLabels[i - 1], lx1 + 4, yy);
      }
      drawRich(ctx, [{ t: "N", i: true }, { t: "eff", s: true }], p.neff[0] - ox, p.neff[1] - oy + 4, 12, FAM, "#333", false);
      ctx.restore();
    },
  };
}

function toXY(d: Pt[]) {
  return d.map(([x, y]) => ({ x, y }));
}

function makeChart(canvas: HTMLCanvasElement, p: Panel) {
  const [cx, cy, cw, ch] = p.box;
  const [l, t, r, b] = p.area;
  const WY = 44, HX = 22;
  const base = { pointRadius: 0, pointHoverRadius: 0, tension: 0 };
  const datasets: any[] = [];
  p.fills.forEach((f) => datasets.push({ ...base, data: toXY(f.data), fill: "start", backgroundColor: f.color, borderColor: CONTOUR, borderWidth: 1, order: f.order }));
  datasets.push({ ...base, data: toXY(p.boundary), fill: "start", backgroundColor: GRAY, borderColor: "rgba(0,0,0,0)", borderWidth: 0, order: 7 });
  p.contours.forEach((c) => datasets.push({ ...base, data: toXY(c), fill: false, borderColor: CONTOUR, borderWidth: 1, order: 3 }));
  p.greens.forEach((g) => datasets.push({ ...base, data: toXY(g), fill: false, borderColor: GREEN, borderWidth: 1.1, order: 2 }));
  datasets.push({ ...base, data: toXY(p.boundary), fill: false, borderColor: "#000", borderWidth: 1.8, order: 1 });

  const tickFont = { family: FAM, size: 11 };
  return new Chart(canvas, {
    type: "line",
    data: { datasets },
    plugins: [overlayPlugin(p)],
    options: {
      responsive: false,
      animation: false,
      events: [],
      layout: { padding: { left: l - cx - WY, right: cx + cw - r, top: t - cy, bottom: cy + ch - b - HX } },
      plugins: { legend: { display: false }, tooltip: { enabled: false }, title: { display: false } },
      scales: {
        x: {
          type: "linear", min: p.xr[0], max: p.xr[1],
          afterBuildTicks: (s: any) => { s.ticks = p.xTicks.map((v) => ({ value: v })); },
          afterFit: (s: any) => { s.height = HX; },
          grid: { display: false, drawTicks: false }, border: { display: false },
          ticks: { padding: 4, font: tickFont, color: "#777", maxRotation: 0, autoSkip: false, callback: (v: any) => String(v) },
        },
        y: {
          type: "linear", min: p.yr[0], max: p.yr[1],
          afterBuildTicks: (s: any) => { s.ticks = p.yTicks.map((v) => ({ value: v })); },
          afterFit: (s: any) => { s.width = WY; },
          grid: { display: false, drawTicks: false }, border: { display: false },
          ticks: { padding: 4, font: tickFont, color: "#777", autoSkip: false, callback: (v: any) => (Number(v) < 0 ? "-\u2009" : "") + Math.abs(Number(v)).toFixed(1) },
        },
      },
    } as any,
  });
}

export default function App() {
  const refs = useRef<(HTMLCanvasElement | null)[]>([]);
  useEffect(() => {
    const charts = PANELS.map((p, i) => makeChart(refs.current[i] as HTMLCanvasElement, p));
    return () => charts.forEach((c) => c.destroy());
  }, []);
  return (
    <div style={{ position: "absolute", left: 0, top: 0, width: 970, height: 1423, background: "#fff" }}>
      {PANELS.map((p, i) => (
        <canvas
          key={i}
          ref={(el) => { refs.current[i] = el; }}
          width={p.box[2]}
          height={p.box[3]}
          style={{ position: "absolute", left: p.box[0], top: p.box[1], width: p.box[2], height: p.box[3] }}
        />
      ))}
    </div>
  );
}
